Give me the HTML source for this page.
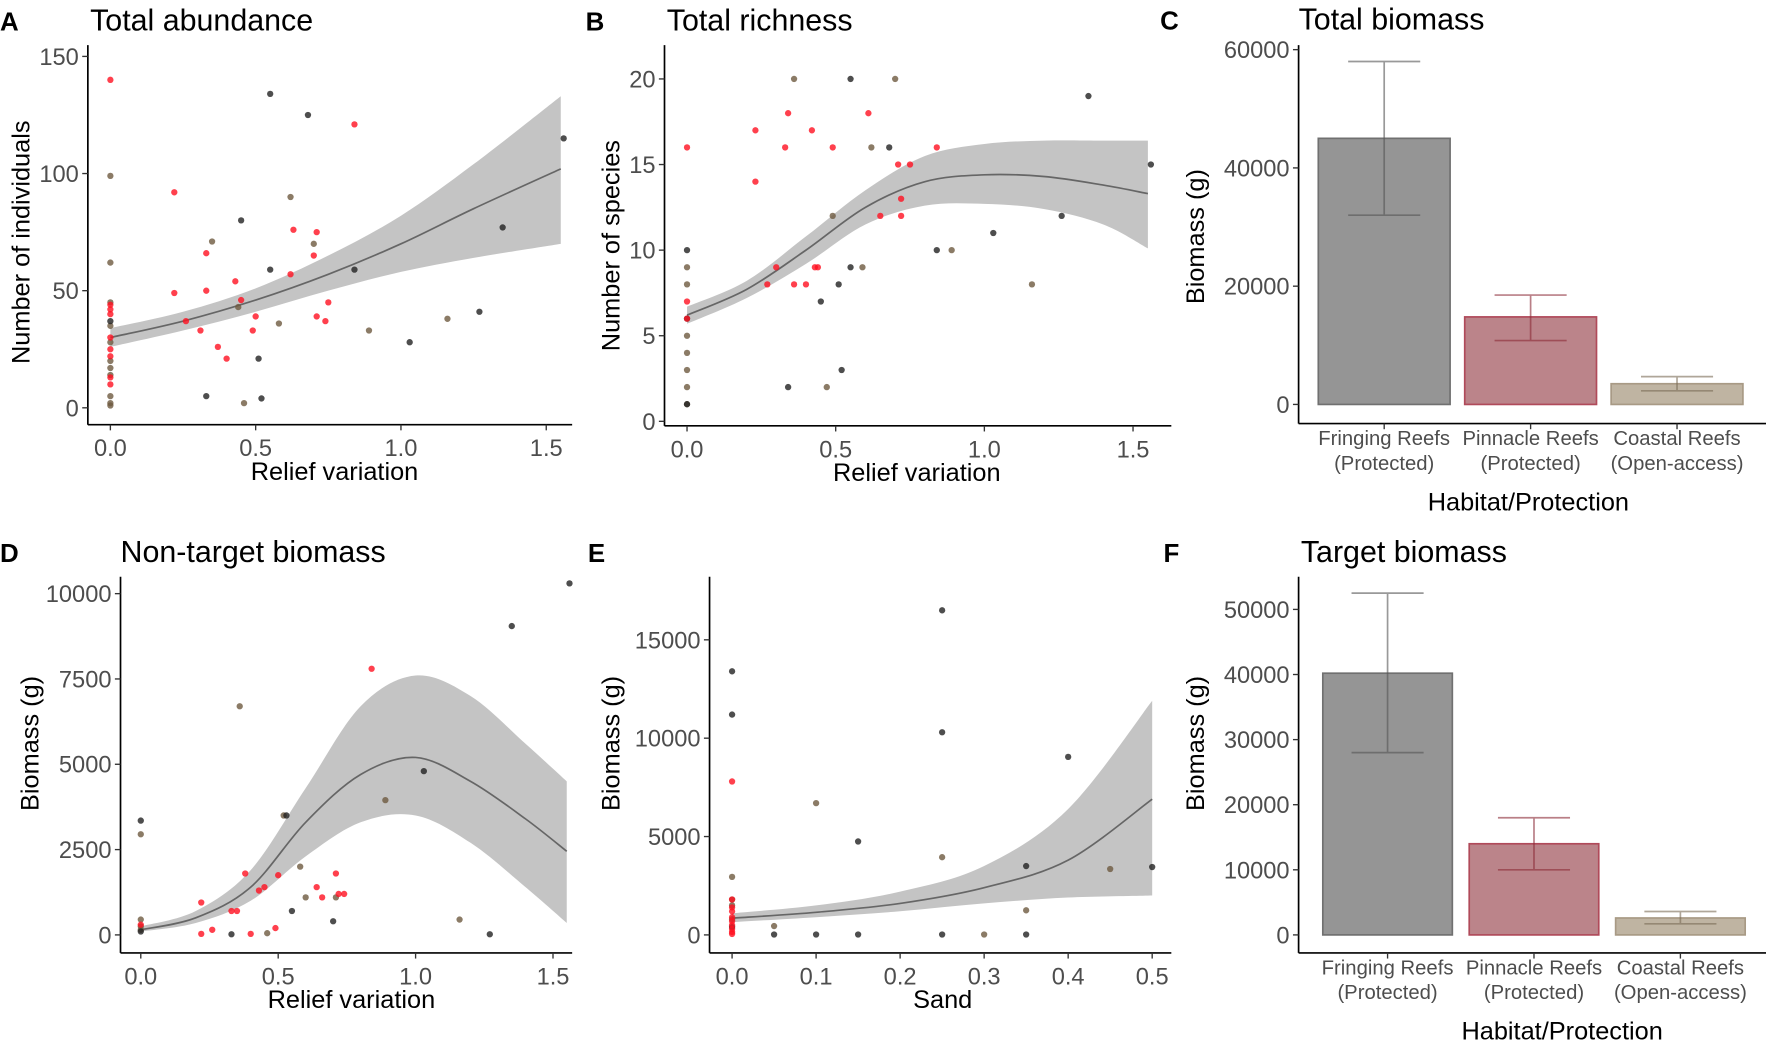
<!DOCTYPE html>
<html><head><meta charset="utf-8"><style>
html,body{margin:0;padding:0;background:#fff;}
svg{display:block;font-family:"Liberation Sans",Arial,sans-serif;}
.tick{font-size:21px;fill:#4d4d4d;}
.cat{font-size:18px;fill:#4d4d4d;}
.atitle{font-size:22.5px;fill:#000;}
.ptitle{font-size:27px;fill:#000;}
.plabel{font-size:23px;font-weight:bold;fill:#000;}
</style></head><body>
<svg id="fig" width="1766" height="1042" viewBox="0 0 1568 925" xmlns="http://www.w3.org/2000/svg"></svg>
<script>
// ---------- DATA ----------
const fitXRelief = [0,0.25,0.5,0.75,1.0,1.25,1.55];
const abFit = [30,37,46,57,70,85,102];
const abLo = [26,33,41,50,58,64,70];
const abHi = [34,41,51,65,82,104,133];
const abRed = [[0,140],[0.22,92],[0.84,121],[0.22,49],[0.33,50],[0.33,66],[0.43,54],[0.31,33],[0.37,26],[0.40,21],[0.50,39],[0.49,33],[0.63,76],[0.71,75],[0.70,65],[0.71,39],[0.74,37],[0.75,45],[0.62,57],[0.26,37],[0.45,46],[0,44],[0,42],[0,40],[0,30],[0,25],[0,22],[0,13],[0,10]];
const abDark = [[0.55,134],[0.68,125],[1.56,115],[0.45,80],[0.55,59],[1.35,77],[0.84,59],[1.27,41],[1.03,28],[0.51,21],[0.33,5],[0.52,4],[0,37]];
const abBrown = [[0,99],[0,62],[0.62,90],[0.35,71],[0.70,70],[0.58,36],[0.89,33],[1.16,38],[0.44,43],[0.46,2],[0,45],[0,35],[0,28],[0,20],[0,17],[0,14],[0,5],[0,2],[0,1]];

const fitXRich = [0,0.2,0.4,0.6,0.8,1.0,1.2,1.4,1.55];
const riFit = [6.2,7.7,10,12.5,14,14.4,14.3,13.8,13.3];
const riLo = [5.7,7.2,9.2,11.5,12.6,12.7,12.4,11.5,10.1];
const riHi = [6.7,8.2,10.8,13.5,15.5,16.2,16.4,16.4,16.4];
const riRed = [[0,16],[0.23,17],[0.23,14],[0.33,16],[0.34,18],[0.42,17],[0.49,16],[0.61,18],[0.71,15],[0.75,15],[0.84,16],[0.30,9],[0.36,8],[0.40,8],[0.43,9],[0.44,9],[0.27,8],[0.72,13],[0.72,12],[0.65,12],[0,7],[0,6]];
const riDark = [[0.55,20],[1.35,19],[1.56,15],[0.68,16],[0.84,10],[1.03,11],[0.55,9],[0.51,8],[0.45,7],[0.34,2],[0.52,3],[1.26,12],[0,10],[0,6],[0,1]];
const riBrown = [[0.36,20],[0.70,20],[0.62,16],[0.49,12],[0.59,9],[0.89,10],[1.16,8],[0.47,2],[0,9],[0,8],[0,5],[0,4],[0,3],[0,2],[0,1]];

const categories = ["Fringing Reefs|(Protected)","Pinnacle Reefs|(Protected)","Coastal Reefs|(Open-access)"];
const totMean = [45000,14800,3500];
const totLo = [32000,10800,2300];
const totHi = [58000,18500,4700];
const tgtMean = [40200,14000,2600];
const tgtLo = [28000,10000,1700];
const tgtHi = [52500,18000,3600];

const ntFit = [150,500,1400,3300,4700,5200,4500,3400,2450];
const ntLo = [100,350,1000,2300,3300,3500,2700,1400,350];
const ntHi = [250,700,1900,4300,6700,7600,7000,5600,4500];
const ntDark = [[1.56,10300],[1.35,9050],[1.03,4800],[0.53,3500],[0,3350],[1.27,20],[0.33,20],[0.55,700],[0.70,400],[0,100]];
const ntBrown = [[0.36,6700],[0.89,3950],[0.52,3500],[0.58,2000],[0,2950],[0.60,1100],[0.71,1100],[1.16,450],[0.46,50],[0,450],[0,250],[0,150]];
const ntRed = [[0.84,7800],[0.38,1800],[0.50,1750],[0.64,1400],[0.71,1800],[0.74,1200],[0.72,1200],[0.43,1300],[0.45,1400],[0.22,950],[0.33,700],[0.35,700],[0.26,150],[0.40,30],[0.22,30],[0.49,200],[0.66,1100],[0,300]];

const fitXSand = [0,0.1,0.2,0.3,0.4,0.5];
const sdFit = [850,1150,1600,2400,3800,6900];
const sdLo = [650,900,1200,1600,1900,2000];
const sdHi = [1100,1500,2200,3500,6400,11900];
const sdDark = [[0,13400],[0,11200],[0.25,16500],[0.25,10300],[0.40,9050],[0.15,4750],[0.35,3500],[0.50,3450],[0.05,20],[0.10,20],[0.15,20],[0.25,20],[0.35,20],[0,400]];
const sdBrown = [[0.10,6700],[0.25,3950],[0.45,3350],[0,2950],[0.35,1250],[0.05,450],[0.30,20],[0,1800],[0,1500],[0,800]];
const sdRed = [[0,7800],[0,1800],[0,1400],[0,1200],[0,900],[0,700],[0,500],[0,300],[0,150],[0,50]];

// ---------- DRAW ----------
const NS="http://www.w3.org/2000/svg";
const svg=document.getElementById('fig');
function mk(tag,attrs,parent){const e=document.createElementNS(NS,tag);for(const k in attrs)e.setAttribute(k,attrs[k]);(parent||svg).appendChild(e);return e;}
function txt(s,attrs,parent){const e=mk('text',attrs,parent);e.textContent=s;return e;}
function lin(a0,a1,p0,p1){return v=>p0+(v-a0)*(p1-p0)/(a1-a0);}
// Catmull-Rom smooth path through pixel points
function smooth(pts,start){
  let d=(start?'M':'L')+pts[0][0]+','+pts[0][1];
  for(let i=0;i<pts.length-1;i++){
    const p0=pts[Math.max(i-1,0)],p1=pts[i],p2=pts[i+1],p3=pts[Math.min(i+2,pts.length-1)];
    const c1=[p1[0]+(p2[0]-p0[0])/6,p1[1]+(p2[1]-p0[1])/6];
    const c2=[p2[0]-(p3[0]-p1[0])/6,p2[1]-(p3[1]-p1[1])/6];
    d+=`C${c1[0]},${c1[1]} ${c2[0]},${c2[1]} ${p2[0]},${p2[1]}`;
  }
  return d;
}

function frame(g,o){
  const ax=mk('line',{x1:o.axX,y1:o.top,x2:o.axX,y2:o.axY,stroke:'#000','stroke-width':1.5},g);
  
  const bx=mk('line',{x1:o.axX,y1:o.axY,x2:o.right,y2:o.axY,stroke:'#000','stroke-width':1.5},g);
  
  o.yt.forEach(v=>{const y=o.sy(v);
    mk('line',{x1:o.axX-5,y1:y,x2:o.axX,y2:y,stroke:'#333','stroke-width':1.2},g);
    const t=txt(String(v),{x:o.axX-8,y:y+7.5,'text-anchor':'end',class:'tick'},g);
    });
  const yt=txt(o.ytitle,{transform:`translate(${o.ytX},${o.ytY}) rotate(-90)`,'text-anchor':'middle',class:'atitle'},g);
  
  const tt=txt(o.title,{x:o.titleX,y:o.titleY,class:'ptitle'},g);
  
  const pl=txt(o.label,{x:o.labelX,y:o.titleY,class:'plabel'},g);
  
}

function scatterPanel(o){
  const g=mk('g',{});
  
  frame(g,o);
  o.xt.forEach(v=>{const x=o.sx(v);
    mk('line',{x1:x,y1:o.axY,x2:x,y2:o.axY+5,stroke:'#333','stroke-width':1.2},g);
    const t=txt(v.toFixed(1),{x:x,y:o.axY+28,'text-anchor':'middle',class:'tick'},g);
    });
  const xt=txt(o.xtitle,{x:o.xtX,y:o.axY+49,'text-anchor':'middle',class:'atitle'},g);
  
  const hiPts=o.fx.map((v,i)=>[o.sx(v),o.sy(o.hi[i])]);
  const loPts=o.fx.map((v,i)=>[o.sx(v),o.sy(o.lo[i])]).reverse();
  const rb=mk('path',{d:smooth(hiPts,true)+smooth(loPts,false)+'Z',fill:'#c4c4c4'},g);
  
  const fitPts=o.fx.map((v,i)=>[o.sx(v),o.sy(o.fit[i])]);
  const fl=mk('path',{d:smooth(fitPts,true),fill:'none',stroke:'#666','stroke-width':1.5},g);
  
  const groups=[[o.brown,'#6e5a40'],[o.dark,'#222'],[o.red,'#ff1020']];
  groups.forEach(([pts,c])=>pts.forEach(p=>{
    const cc=mk('circle',{cx:o.sx(p[0]),cy:o.sy(p[1]),r:2.8,fill:c,'fill-opacity':0.8},g);
    }));
}

function barPanel(o){
  const g=mk('g',{});
  
  frame(g,o);
  const fills=['#959595','#bb848a','#bfb4a2'],strokes=['#707070','#b04a5a','#a89a85'],ebc=['#555','#8a2a35','#7a6a55'];
  categories.forEach((c,i)=>{
    const cx=o.cx0+i*o.step;
    mk('line',{x1:cx,y1:o.axY,x2:cx,y2:o.axY+5,stroke:'#333','stroke-width':1.2},g);
    c.split('|').forEach((p,j)=>{const t=txt(p,{x:cx,y:o.axY+19+j*22,'text-anchor':'middle',class:'cat'},g);
      });
    const y0=o.sy(0),y1=o.sy(o.mean[i]);
    const r=mk('rect',{x:cx-o.bw/2,y:y1,width:o.bw,height:y0-y1,fill:fills[i],stroke:strokes[i],'stroke-width':1.5},g);
    
    const eb=mk('path',{d:`M${cx-32},${o.sy(o.hi[i])}H${cx+32}M${cx},${o.sy(o.hi[i])}V${o.sy(o.lo[i])}M${cx-32},${o.sy(o.lo[i])}H${cx+32}`,stroke:ebc[i],'stroke-opacity':0.6,'stroke-width':1.5,fill:'none'},g);
    
  });
  const xt=txt('Habitat/Protection',{x:o.xtX,y:o.axY+77,'text-anchor':'middle',class:'atitle'},g);
  
}
scatterPanel({name:'panel-a-total-abundance',title:'Total abundance',label:'A',labelX:0,titleX:80,titleY:27,
  axX:78,axY:377,top:40,right:508,sx:lin(0,1.5,98,485),sy:lin(0,150,362,50),
  xt:[0,0.5,1,1.5],yt:[0,50,100,150],ytitle:'Number of individuals',ytX:26,ytY:215,xtitle:'Relief variation',xtX:297,
  fx:fitXRelief,fit:abFit,lo:abLo,hi:abHi,red:abRed,dark:abDark,brown:abBrown});
scatterPanel({name:'panel-b-total-richness',title:'Total richness',label:'B',labelX:520,titleX:592,titleY:27,
  axX:590,axY:378,top:40,right:1040,sx:lin(0,1.5,610,1006),sy:lin(0,20,374,70),
  xt:[0,0.5,1,1.5],yt:[0,5,10,15,20],ytitle:'Number of species',ytX:550,ytY:218,xtitle:'Relief variation',xtX:814,
  fx:fitXRich,fit:riFit,lo:riLo,hi:riHi,red:riRed,dark:riDark,brown:riBrown});
barPanel({name:'panel-c-total-biomass',title:'Total biomass',label:'C',labelX:1030,titleX:1153,titleY:26,
  axX:1153,axY:376,top:40,right:1568,sy:lin(0,60000,359,44),yt:[0,20000,40000,60000],
  ytitle:'Biomass (g)',ytX:1069,ytY:210,cx0:1229,step:130,bw:117,xtX:1357,mean:totMean,lo:totLo,hi:totHi});
scatterPanel({name:'panel-d-nontarget-biomass',title:'Non-target biomass',label:'D',labelX:0,titleX:107,titleY:499,
  axX:107,axY:846,top:512,right:508,sx:lin(0,1.5,125,491),sy:lin(0,10000,830,527),
  xt:[0,0.5,1,1.5],yt:[0,2500,5000,7500,10000],ytitle:'Biomass (g)',ytX:34,ytY:660,xtitle:'Relief variation',xtX:312,
  fx:fitXRich,fit:ntFit,lo:ntLo,hi:ntHi,red:ntRed,dark:ntDark,brown:ntBrown});
scatterPanel({name:'panel-e-sand-biomass',title:'',label:'E',labelX:522,titleX:630,titleY:499,
  axX:630,axY:846,top:512,right:1040,sx:lin(0,0.5,650,1023),sy:lin(0,15000,830,568),
  xt:[0,0.1,0.2,0.3,0.4,0.5],yt:[0,5000,10000,15000],ytitle:'Biomass (g)',ytX:550,ytY:660,xtitle:'Sand',xtX:837,
  fx:fitXSand,fit:sdFit,lo:sdLo,hi:sdHi,red:sdRed,dark:sdDark,brown:sdBrown});
barPanel({name:'panel-f-target-biomass',title:'Target biomass',label:'F',labelX:1033,titleX:1155,titleY:499,
  axX:1153,axY:846,top:512,right:1568,sy:lin(0,50000,830,541),yt:[0,10000,20000,30000,40000,50000],
  ytitle:'Biomass (g)',ytX:1069,ytY:660,cx0:1232,step:130,bw:115,xtX:1387,mean:tgtMean,lo:tgtLo,hi:tgtHi});
</script>
</body></html>
